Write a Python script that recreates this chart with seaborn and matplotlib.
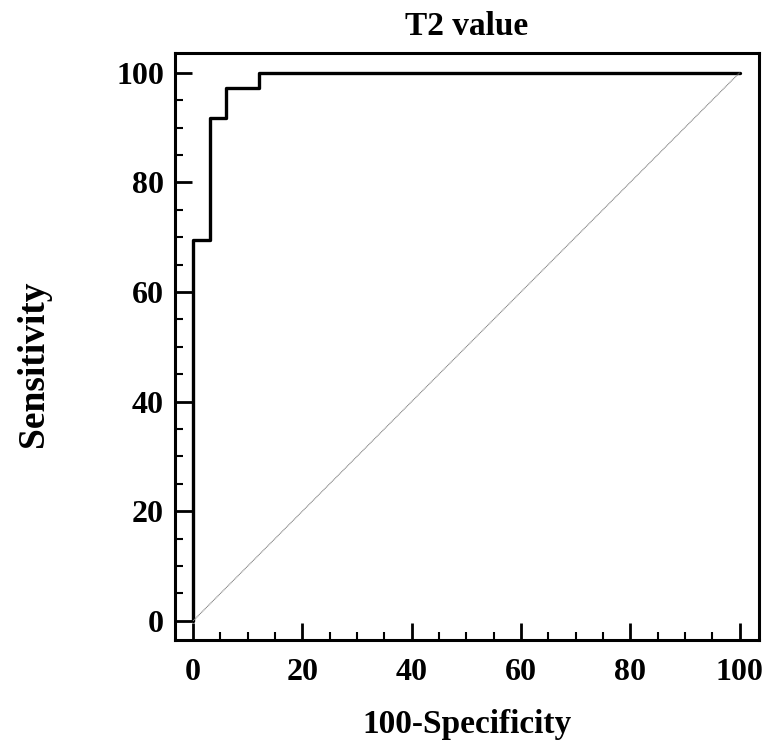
import matplotlib
matplotlib.use('Agg')
import matplotlib.pyplot as plt
import seaborn as sns
import pandas as pd
from matplotlib.ticker import MultipleLocator

# ROC curve corner points (100-Specificity, Sensitivity)
fpr = [0, 0, 3.03, 3.03, 6.06, 6.06, 12.12, 12.12, 100]
tpr = [0, 69.44, 69.44, 91.67, 91.67, 97.22, 97.22, 100, 100]
diag = [0, 100]

sns.set_style('white')
plt.rcParams['font.family'] = ['Liberation Serif', 'DejaVu Serif']
plt.rcParams['font.weight'] = 'bold'
plt.rcParams['text.color'] = 'black'
plt.rcParams['axes.labelcolor'] = 'black'
plt.rcParams['xtick.color'] = 'black'
plt.rcParams['ytick.color'] = 'black'

fig = plt.figure(figsize=(7.71, 7.46), dpi=100)
ax = fig.add_axes([0.227, 0.142, 0.757, 0.787])

roc = pd.DataFrame({'fpr': fpr, 'tpr': tpr})
sns.lineplot(data=roc, x='fpr', y='tpr', sort=False, estimator=None,
             color='black', linewidth=2.4, ax=ax)
sns.lineplot(x=diag, y=diag, color='#808080', linewidth=0.8,
             linestyle=(0, (1, 0.5)), ax=ax)

ax.set_xlim(-3.3, 103.5)
ax.set_ylim(-3.5, 103.6)
ax.xaxis.set_major_locator(MultipleLocator(20))
ax.yaxis.set_major_locator(MultipleLocator(20))
ax.xaxis.set_minor_locator(MultipleLocator(5))
ax.yaxis.set_minor_locator(MultipleLocator(5))
ax.tick_params(which='major', direction='in', length=12, width=2, labelsize=23)
ax.tick_params(axis='x', which='major', pad=13)
ax.tick_params(axis='y', which='major', pad=8)
ax.tick_params(which='minor', direction='in', length=6, width=1.5)
ax.tick_params(top=False, right=False, which='both', bottom=True, left=True)
for lab in ax.get_xticklabels() + ax.get_yticklabels():
    lab.set_fontweight('bold')
for s in ax.spines.values():
    s.set_linewidth(2.2)
    s.set_color('black')

ax.set_title('T2 value', fontsize=24, fontweight='bold', pad=13)
ax.set_xlabel('100-Specificity', fontsize=24, fontweight='bold', labelpad=16)
ax.set_ylabel('Sensitivity', fontsize=27, fontweight='bold')
ax.yaxis.set_label_coords(-0.212, 0.47)

fig.savefig('out.png', dpi=100)
